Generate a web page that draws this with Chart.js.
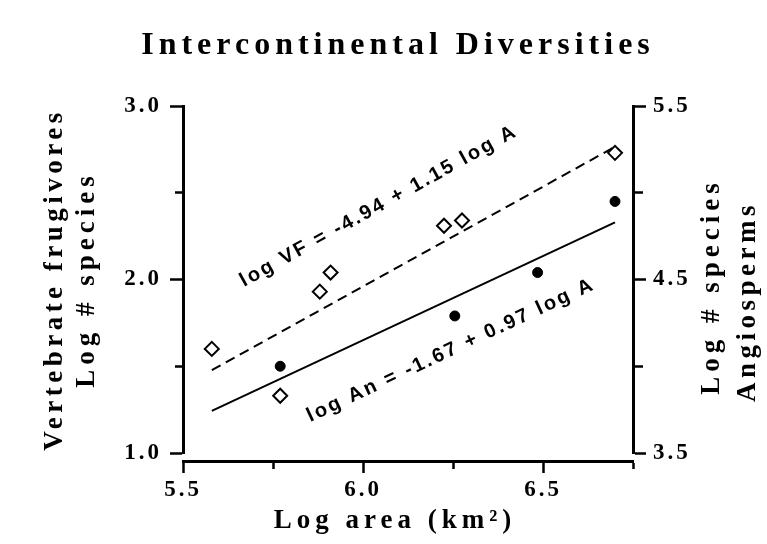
<!DOCTYPE html>
<html>
<head>
<meta charset="utf-8">
<title>Intercontinental Diversities</title>
<script src="https://cdn.jsdelivr.net/npm/chart.js@4.4.1/dist/chart.umd.min.js"></script>
<style>
  html, body { margin: 0; padding: 0; background: #fff; }
  #wrap { width: 767px; height: 544px; position: relative; }
</style>
</head>
<body>
<div id="wrap"><canvas id="chart"></canvas></div>
<script>
// log area (km²) vs log # species, one point per continent
const vfArea = [5.58, 5.77, 5.88, 5.91, 6.225, 6.275, 6.70];
const vfSpecies = [1.60, 1.33, 1.93, 2.04, 2.31, 2.34, 2.73];
const anArea = [5.77, 6.255, 6.485, 6.70];
const anSpecies = [4.00, 4.29, 4.54, 4.95];

// regression lines [intercept, slope] as printed, over the fitted area range
const vfFit = [-4.94, 1.15];
const anFit = [-1.67, 0.97];
const fitRange = [5.58, 6.70];

// labelled ticks (the others are minor)
const xLabels = ['5.5', '6.0', '6.5'];
const leftLabels = ['1.0', '2.0', '3.0'];
const rightLabels = ['3.5', '4.5', '5.5'];

const SERIF = '"Liberation Serif", "Times New Roman", serif';
const SANS = '"Liberation Sans", Arial, sans-serif';

const fitLine = (fit) => fitRange.map(x => ({ x, y: fit[0] + fit[1] * x }));
const pick = (labels) => (v) => {
  const s = Number(v).toFixed(1);
  return labels.includes(s) ? s : '';
};
const isMinor = (c) => !c.tick || c.tick.label === '';

function spaced(ctx, text, x, y, angle, font, spacing) {
  ctx.save();
  ctx.translate(x, y);
  ctx.rotate(angle);
  ctx.font = font;
  ctx.letterSpacing = spacing + 'px';
  ctx.textAlign = 'center';
  ctx.textBaseline = 'middle';
  ctx.fillStyle = '#000';
  ctx.fillText(text, 0, 0);
  ctx.restore();
}

// title, axis titles and the two equations written along their lines
const figureText = {
  id: 'figureText',
  beforeDraw(chart) {
    chart.ctx.letterSpacing = '3px';
  },
  afterDraw(chart) {
    const { ctx, chartArea: a, scales } = chart;
    const midY = (a.top + a.bottom) / 2;
    const up = -Math.PI / 2;
    const axisFont = 'bold 27px ' + SERIF;

    spaced(ctx, 'Intercontinental Diversities', 398, 46, 0, 'bold 32px ' + SERIF, 5);

    spaced(ctx, 'Vertebrate frugivores', 55, midY, up, axisFont, 4.5);
    spaced(ctx, 'Log # species', 87, midY, up, axisFont, 5);

    const r = scales.y2.left;
    spaced(ctx, 'Log # species', r + 79, midY + 7, up, axisFont, 5);
    spaced(ctx, 'Angiosperms', r + 115, midY + 22, up, axisFont, 4.5);

    spaced(ctx, 'Log area (km²)', 395, 521, 0, axisFont, 5);

    const eqs = [
      { text: 'log VF = -4.94 + 1.15 log A', at: [6.044, 2.423], axis: 'y', fit: vfFit },
      { text: 'log An = -1.67 + 0.97 log A', at: [6.244, 4.092], axis: 'y2', fit: anFit }
    ];
    eqs.forEach(e => {
      const ys = scales[e.axis];
      const [p0, p1] = fitLine(e.fit).map(p => ({
        x: scales.x.getPixelForValue(p.x), y: ys.getPixelForValue(p.y)
      }));
      const angle = Math.atan2(p1.y - p0.y, p1.x - p0.x);
      spaced(ctx, e.text, scales.x.getPixelForValue(e.at[0]), ys.getPixelForValue(e.at[1]),
        angle, 'bold 20px ' + SANS, 2.5);
    });
  }
};

const tickFont = { family: SERIF, size: 23, weight: 'bold' };
const axisLine = { display: true, color: '#000', width: 3 };

new Chart(document.getElementById('chart'), {
  type: 'scatter',
  data: {
    datasets: [
      {
        label: 'Vertebrate frugivores',
        data: vfArea.map((x, i) => ({ x, y: vfSpecies[i] })),
        xAxisID: 'x',
        yAxisID: 'y',
        pointStyle: 'rectRot',
        pointRadius: 7,
        pointBackgroundColor: '#fff',
        pointBorderColor: '#000',
        pointBorderWidth: 2,
        clip: false
      },
      {
        label: 'Angiosperms',
        data: anArea.map((x, i) => ({ x, y: anSpecies[i] })),
        xAxisID: 'x',
        yAxisID: 'y2',
        pointStyle: 'circle',
        pointRadius: 5,
        pointBackgroundColor: '#000',
        pointBorderColor: '#000',
        pointBorderWidth: 1,
        clip: false
      },
      {
        label: 'log VF fit',
        data: fitLine(vfFit),
        xAxisID: 'x',
        yAxisID: 'y',
        showLine: true,
        borderColor: '#000',
        borderWidth: 2,
        borderDash: [10, 6],
        pointRadius: 0
      },
      {
        label: 'log An fit',
        data: fitLine(anFit),
        xAxisID: 'x',
        yAxisID: 'y2',
        showLine: true,
        borderColor: '#000',
        borderWidth: 2,
        pointRadius: 0
      }
    ]
  },
  options: {
    responsive: true,
    maintainAspectRatio: false,
    animation: false,
    layout: { padding: { top: 106, left: 0, right: 0, bottom: 33 } },
    plugins: {
      legend: { display: false },
      tooltip: { enabled: false }
    },
    scales: {
      x: {
        type: 'linear', position: 'bottom', weight: 1, min: 5.5, max: 6.75,
        ticks: { stepSize: 0.25, autoSkip: false, maxRotation: 0, padding: 3, color: '#000', font: tickFont, callback: pick(xLabels) },
        grid: { drawOnChartArea: false, tickLength: 12, tickWidth: 2.5, tickColor: '#000',
          tickBorderDash: (c) => isMinor(c) ? [6, 50] : [] },
        border: axisLine,
        afterFit: (s) => { s.height = 50; }
      },
      // empty strip that sets the x axis a little below the y axes
      gap: {
        type: 'linear', position: 'bottom', weight: 0, min: 0, max: 1,
        ticks: { display: false }, grid: { display: false }, border: { display: false },
        afterFit: (s) => { s.height = 8; }
      },
      y: {
        position: 'left', min: 1, max: 3,
        ticks: { stepSize: 0.5, autoSkip: false, padding: 8, color: '#000', font: tickFont, callback: pick(leftLabels) },
        grid: { drawOnChartArea: false, tickLength: 13, tickWidth: 2.5, tickColor: '#000',
          tickBorderDash: (c) => isMinor(c) ? [0, 5, 50, 0] : [] },
        border: axisLine,
        afterFit: (s) => { s.width = 183; }
      },
      y2: {
        position: 'right', min: 3.5, max: 5.5,
        ticks: { stepSize: 0.5, autoSkip: false, padding: 7, color: '#000', font: tickFont, callback: pick(rightLabels) },
        grid: { drawOnChartArea: false, tickLength: 13, tickWidth: 2.5, tickColor: '#000',
          tickBorderDash: (c) => isMinor(c) ? [8, 50] : [] },
        border: axisLine,
        afterFit: (s) => { s.width = 134; }
      }
    }
  },
  plugins: [figureText]
});
</script>
</body>
</html>
